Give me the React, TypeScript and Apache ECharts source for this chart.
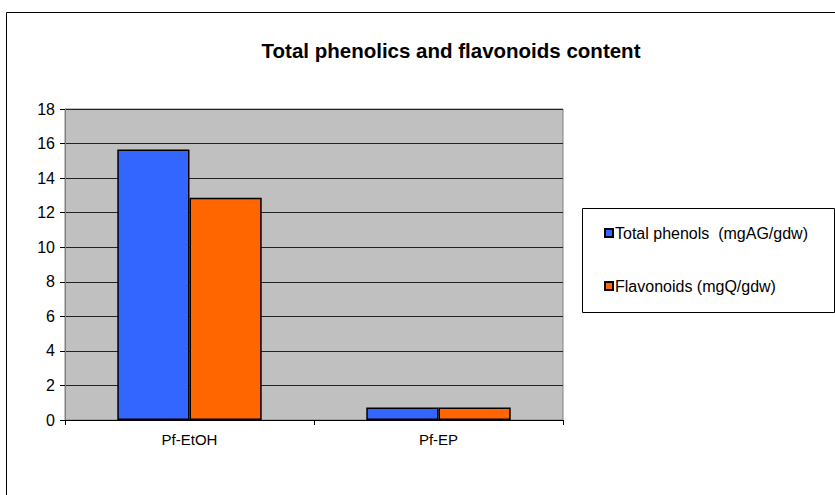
import React, { useEffect, useRef } from "react";
import * as echarts from "echarts";

const categories = ["Pf-EtOH", "Pf-EP"];
const totalPhenols = [15.65, 0.73];
const flavonoids = [12.87, 0.73];
const seriesNames = ["Total phenols \u00a0(mgAG/gdw)", "Flavonoids (mgQ/gdw)"];
const title = "Total phenolics and flavonoids content";

export default function App() {
  const ref = useRef<HTMLDivElement>(null);
  useEffect(() => {
    document.body.style.margin = "0";
    const chart = echarts.init(ref.current!, null, { renderer: "svg" });
    const font = "Liberation Sans, Arial, sans-serif";
    chart.setOption({
      animation: false,
      backgroundColor: "#ffffff",
      textStyle: { fontFamily: font },
      title: {
        text: title,
        left: 446,
        top: 35,
        textAlign: "center",
        textStyle: { fontFamily: font, fontSize: 20.5, fontWeight: "bold", color: "#000" },
      },
      graphic: [
        {
          type: "rect",
          shape: { x: 6.5, y: 12.5, width: 900, height: 600 },
          style: { fill: "none", stroke: "#000", lineWidth: 1 },
          silent: true,
        },
        {
          type: "rect",
          shape: { x: 582.5, y: 208.5, width: 252, height: 104 },
          style: { fill: "#fff", stroke: "#000", lineWidth: 1 },
          silent: true,
          z: 0,
        },
      ],
      legend: {
        orient: "vertical",
        left: 604,
        top: 224,
        itemWidth: 8,
        itemHeight: 8,
        itemGap: 35,
        icon: "rect",
        padding: 0,
        z: 10,
        textStyle: { fontFamily: font, fontSize: 16, lineHeight: 18, color: "#000", padding: [0, 0, 0, -3] },
        data: seriesNames,
      },
      grid: {
        left: 65,
        right: 272,
        top: 109,
        bottom: 75,
        show: true,
        backgroundColor: "#C0C0C0",
        borderColor: "#808080",
        borderWidth: 1,
      },
      xAxis: {
        type: "category",
        data: categories,
        axisLine: { lineStyle: { color: "#000", width: 1 } },
        axisTick: { show: true, length: 5, lineStyle: { color: "#000" } },
        axisLabel: { fontFamily: font, fontSize: 15, color: "#000", margin: 12 },
      },
      yAxis: {
        type: "value",
        min: 0,
        max: 18,
        interval: 2,
        axisLine: { show: true, lineStyle: { color: "#808080", width: 1 } },
        axisTick: { show: true, length: 5, lineStyle: { color: "#000" } },
        axisLabel: { fontFamily: font, fontSize: 16, color: "#000", margin: 10 },
        splitLine: { lineStyle: { color: "#222", width: 1 } },
      },
      series: [
        {
          name: seriesNames[0],
          type: "bar",
          data: totalPhenols,
          barGap: "0%",
          barCategoryGap: "42%",
          itemStyle: { color: "#3366FF", borderColor: "#000", borderWidth: 1.5 },
        },
        {
          name: seriesNames[1],
          type: "bar",
          data: flavonoids,
          barGap: "0%",
          barCategoryGap: "42%",
          itemStyle: { color: "#FF6600", borderColor: "#000", borderWidth: 1.5 },
        },
      ],
    });
    return () => chart.dispose();
  }, []);
  return <div ref={ref} style={{ width: 835, height: 495 }} />;
}
